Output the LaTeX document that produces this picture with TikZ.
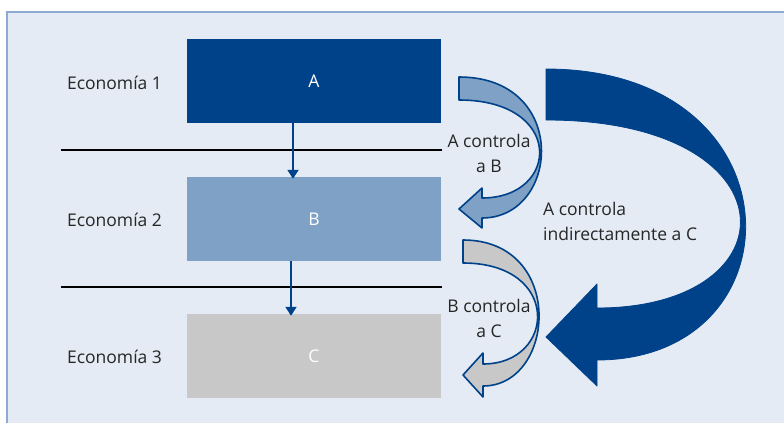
\documentclass[tikz,border=0pt]{standalone}
\usepackage{fontspec}
\setmainfont{Open Sans}
\usetikzlibrary{arrows.meta}
\definecolor{dblue}{RGB}{0,66,138}
\definecolor{mblue}{RGB}{127,161,197}
\definecolor{lgray}{RGB}{200,200,200}
\definecolor{panelbg}{RGB}{228,235,244}
\definecolor{panelline}{RGB}{140,170,210}
\tikzset{
  txt/.style={font=\fontsize{17.5}{25}\selectfont, inner sep=0pt, text=black!85},
  box/.style={minimum width=254pt, minimum height=84pt, inner sep=0pt, font=\fontsize{17.5}{25}\selectfont, text=white},
  sepline/.style={line width=2.5pt, black},
  varrow/.style={dblue, line width=1.8pt, -{Triangle[width=11pt,length=9pt]}},
  curvearrow/.style={draw=dblue, line width=1.6pt, line join=round},
}
\begin{document}
\begin{tikzpicture}[x=1pt,y=-1pt]
\useasboundingbox (0,0) rectangle (784,423);
% panel
\fill[panelbg] (7,12) rectangle (784,423);
\draw[panelline, line width=2pt] (7,423) -- (7,12) -- (784,12);
% separator lines
\draw[sepline] (61,150) -- (442,150);
\draw[sepline] (61,287) -- (442,287);
% boxes
\node[box, fill=dblue] (A) at (314,81) {A};
\node[box, fill=mblue] (B) at (314,219) {B};
\node[box, fill=lgray] (C) at (314,356) {C};
% vertical arrows
\draw[varrow, shorten >=-2pt] ([xshift=-21pt]A.south) -- ([xshift=-21pt]B.north);
\draw[varrow, shorten >=-2pt] ([xshift=-23pt]B.south) -- ([xshift=-23pt]C.north);
% curved arrow A controla a B
\filldraw[curvearrow, fill=mblue] (459,77) .. controls (570,77) and (560,218) .. (482,218)
  -- (482,228) -- (459,209) -- (482,188) -- (482,198)
  .. controls (560,198) and (565,100) .. (459,100) -- cycle;
% curved arrow B controla a C
\filldraw[curvearrow, fill=lgray] (463,240) .. controls (566,240) and (556,386) .. (483,386)
  -- (483,397) -- (463,375) -- (483,353) -- (483,364)
  .. controls (556,364) and (562,263) .. (463,263) -- cycle;
% big arrow A controla indirectamente a C
\filldraw[draw=dblue, fill=dblue, line width=0.8pt, line join=round] (546,69) .. controls (803,69) and (803,360) .. (597,360)
  -- (597,386) -- (546,337) -- (597,284) -- (597,308)
  .. controls (796,308) and (796,120) .. (546,120) -- cycle;
% labels
\node[txt, anchor=base] (e1) at (114.5,89) {Economía 1};
\node[txt, anchor=base] (e2) at (114.5,226) {Economía 2};
\node[txt, anchor=base] (e3) at (114.5,363) {Economía 3};
\node[txt, align=center] (lab1) at (489,153) {A controla\\a B};
\node[txt, align=center] (lab2) at (489,318) {B controla\\a C};
\node[txt, align=left, anchor=west] (lab3) at (543,221) {A controla\\indirectamente a C};
\end{tikzpicture}
\end{document}
